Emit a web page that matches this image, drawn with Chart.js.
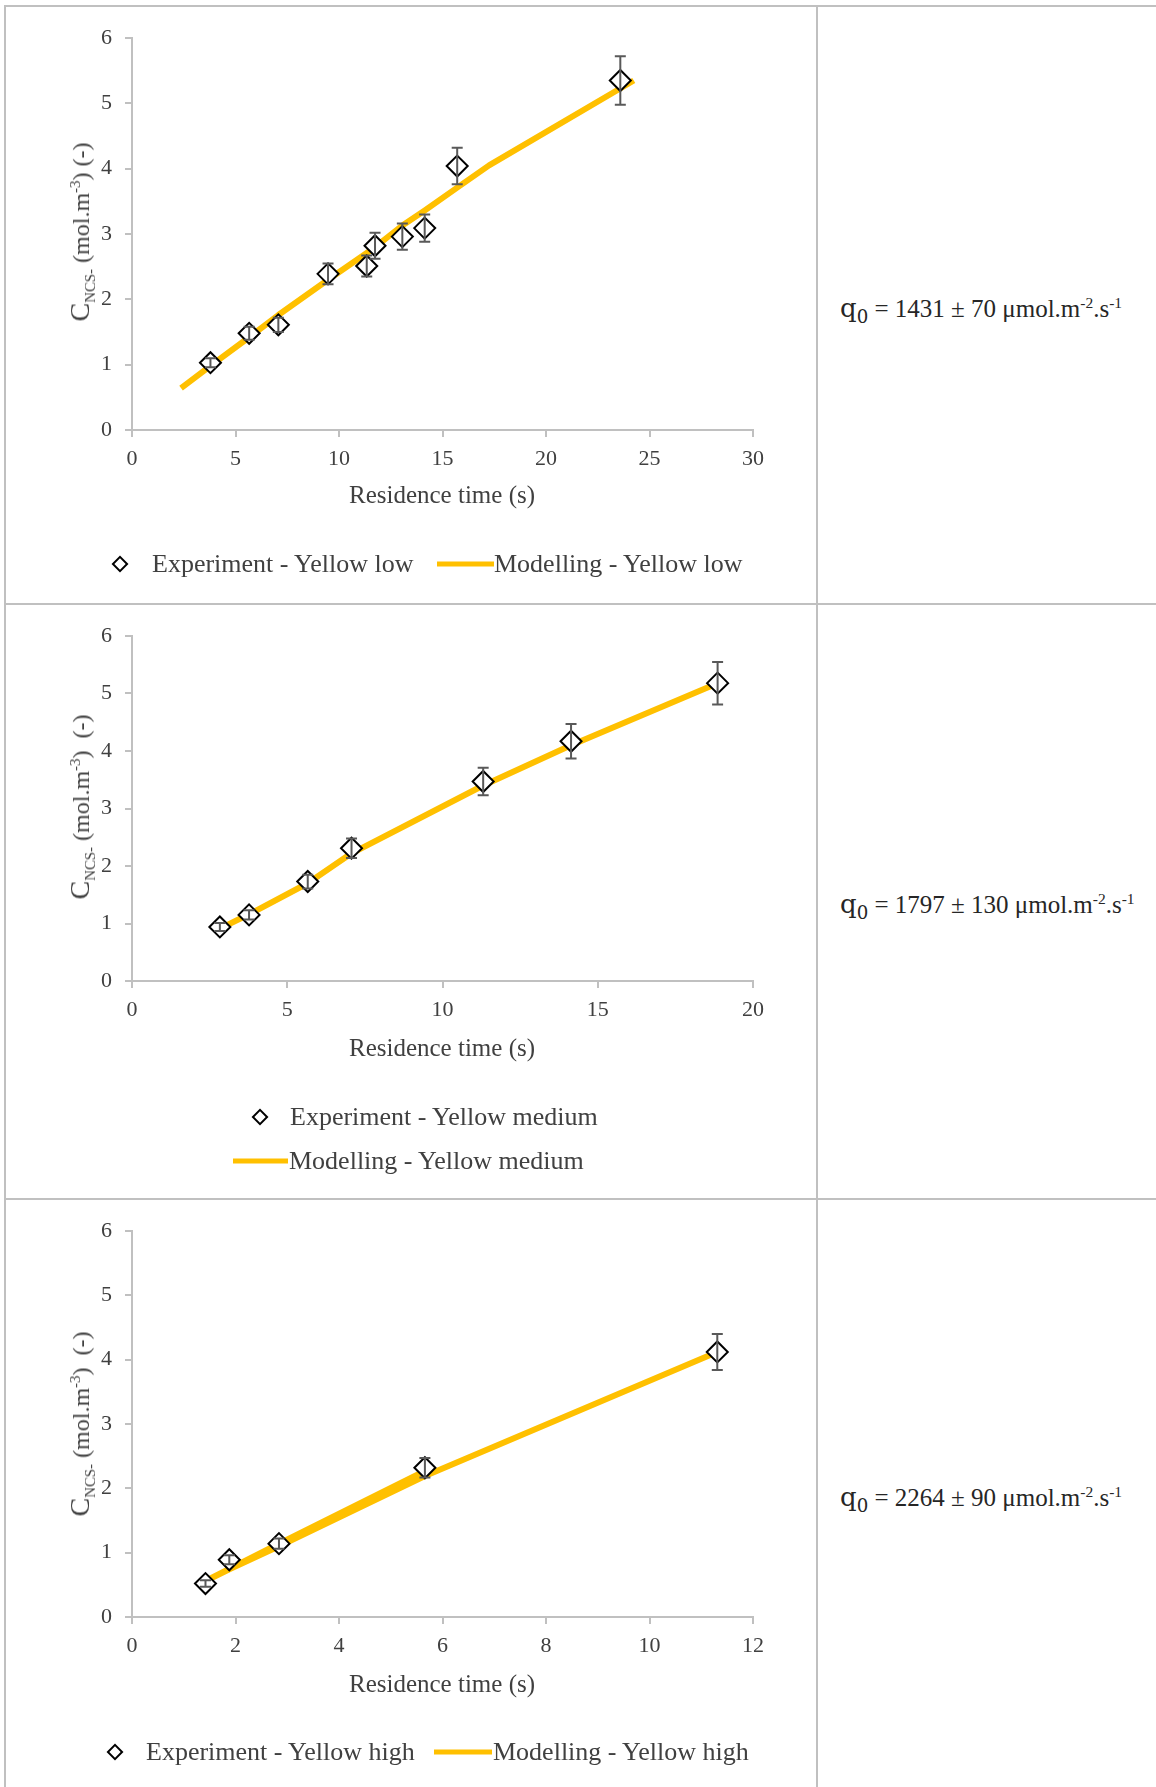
<!DOCTYPE html>
<html>
<head>
<meta charset="utf-8">
<script src="https://cdn.jsdelivr.net/npm/chart.js@4.4.1/dist/chart.umd.min.js"></script>
<style>
  html, body { margin: 0; padding: 0; background: #fff; }
  #page { position: relative; width: 1156px; height: 1787px; overflow: hidden;
          font-family: 'Liberation Serif', serif; color: #404040; }
  .rule { position: absolute; background: #c0c0c0; }
  canvas { position: absolute; left: 6px; }
  .lbl { position: absolute; white-space: nowrap; line-height: 1; }
  .xt { font-size: 25px; transform: translate(-50%, -50%); }
  .yt { font-size: 24px; transform: translate(-50%, -50%) rotate(-90deg); }
  .yt .big { font-size: 28px; }
  .yt sub, .yt sup, .q0 sup { font-size: 0.62em; line-height: 0; }
  .leg { font-size: 26px; transform: translateY(-50%); }
  .dia { position: absolute; width: 8px; height: 8px; border: 2px solid #000;
         transform: translate(-50%, -50%) rotate(45deg); background: #fff; }
  .lline { position: absolute; height: 5px; background: #ffc000; transform: translateY(-50%); }
  .q0 { font-size: 25px; color: #262626; transform: translateY(-50%); }
  .q0 .q { font-family: 'DejaVu Serif', serif; font-size: 26px; }
  .q0 .q sub { font-size: 0.7em; line-height: 0; }
</style>
</head>
<body>
<div id="page">
  <div class="rule" style="left:4px;top:5px;width:1152px;height:2px"></div>
  <div class="rule" style="left:4px;top:5px;width:2px;height:1782px"></div>
  <div class="rule" style="left:816px;top:5px;width:2px;height:1782px"></div>
  <div class="rule" style="left:4px;top:603px;width:1152px;height:2px"></div>
  <div class="rule" style="left:4px;top:1198px;width:1152px;height:2px"></div>

  <canvas id="low" width="810" height="596" style="top:7px"></canvas>
  <canvas id="medium" width="810" height="593" style="top:605px"></canvas>
  <canvas id="high" width="810" height="587" style="top:1200px"></canvas>

  <!-- axis titles -->
  <div class="lbl yt" style="left:80px;top:232px"><span class="big">C</span><sub>NCS-</sub> (mol.m<sup>-3</sup>) (-)</div>
  <div class="lbl yt" style="left:80px;top:807px"><span class="big">C</span><sub>NCS-</sub> (mol.m<sup>-3</sup>)&nbsp; (-)</div>
  <div class="lbl yt" style="left:80px;top:1424px"><span class="big">C</span><sub>NCS-</sub> (mol.m<sup>-3</sup>)&nbsp; (-)</div>
  <div class="lbl xt" style="left:442px;top:494px">Residence time (s)</div>
  <div class="lbl xt" style="left:442px;top:1047px">Residence time (s)</div>
  <div class="lbl xt" style="left:442px;top:1683px">Residence time (s)</div>

  <!-- legends -->
  <div class="dia" style="left:120px;top:564px"></div>
  <div class="lbl leg" style="left:152px;top:564px">Experiment - Yellow low</div>
  <div class="lline" style="left:437px;top:564px;width:57px"></div>
  <div class="lbl leg" style="left:494px;top:564px">Modelling - Yellow low</div>

  <div class="dia" style="left:260px;top:1117px"></div>
  <div class="lbl leg" style="left:290px;top:1117px">Experiment - Yellow medium</div>
  <div class="lline" style="left:233px;top:1161px;width:55px"></div>
  <div class="lbl leg" style="left:289px;top:1161px">Modelling - Yellow medium</div>

  <div class="dia" style="left:115px;top:1752px"></div>
  <div class="lbl leg" style="left:146px;top:1752px">Experiment - Yellow high</div>
  <div class="lline" style="left:434px;top:1752px;width:58px"></div>
  <div class="lbl leg" style="left:493px;top:1752px">Modelling - Yellow high</div>

  <!-- fitted fluxes -->
  <div class="lbl q0" style="left:840px;top:308px"><span class="q">q<sub>0</sub></span> = 1431 ± 70 μmol.m<sup>-2</sup>.s<sup>-1</sup></div>
  <div class="lbl q0" style="left:840px;top:904px"><span class="q">q<sub>0</sub></span> = 1797 ± 130 μmol.m<sup>-2</sup>.s<sup>-1</sup></div>
  <div class="lbl q0" style="left:840px;top:1497px"><span class="q">q<sub>0</sub></span> = 2264 ± 90 μmol.m<sup>-2</sup>.s<sup>-1</sup></div>
</div>

<script>
'use strict';

// Yellow low
var lowTime = [3.79, 5.66, 7.07, 9.47, 11.34, 11.74, 13.06, 14.14, 15.71, 23.59];
var lowConc = [1.03, 1.48, 1.61, 2.39, 2.51, 2.82, 2.96, 3.09, 4.04, 5.35];
var lowErr = [0.07, 0.10, 0.11, 0.16, 0.16, 0.20, 0.20, 0.21, 0.28, 0.37];
var lowModelTime = [2.37, 3.79, 5.66, 7.07, 9.47, 11.34, 11.74, 13.06, 14.14, 15.71, 17.25, 24.24];
var lowModelConc = [0.64, 0.98, 1.42, 1.76, 2.30, 2.71, 2.80, 3.13, 3.36, 3.71, 4.05, 5.35];

// Yellow medium
var medTime = [2.83, 3.77, 5.66, 7.07, 11.31, 14.14, 18.86];
var medConc = [0.94, 1.15, 1.73, 2.31, 3.47, 4.17, 5.18];
var medErr = [0.07, 0.08, 0.12, 0.17, 0.24, 0.30, 0.37];
var medModelTime = [2.83, 3.77, 5.66, 7.07, 11.31, 14.14, 18.86];
var medModelConc = [0.91, 1.16, 1.70, 2.22, 3.40, 4.10, 5.18];

// Yellow high (model series runs out and back, as in the sheet)
var highTime = [1.42, 1.88, 2.84, 5.66, 11.31];
var highConc = [0.52, 0.89, 1.14, 2.32, 4.12];
var highErr = [0.05, 0.07, 0.08, 0.15, 0.28];
var highModelTime = [5.66, 2.84, 1.42, 1.88, 2.84, 5.66, 11.31];
var highModelConc = [2.27, 1.14, 0.56, 0.74, 1.10, 2.19, 4.12];

var yTicks = [0, 1, 2, 3, 4, 5, 6];

var tickFont = { family: 'Liberation Serif', size: 22 };
var axisGrey = '#c0c0c0';

function points(xs, ys) {
  return xs.map(function(x, i) {
    return { x: x, y: ys[i] };
  });
}

var errorBars = {
  id: 'errorBars',
  afterDatasetsDraw: function(chart) {
    var ctx = chart.ctx;
    var sx = chart.scales.x;
    var sy = chart.scales.y;
    chart.data.datasets.forEach(function(ds) {
      if (!ds.errors) return;
      ctx.save();
      ctx.strokeStyle = '#595959';
      ctx.lineWidth = 2;
      ds.data.forEach(function(p, i) {
        var px = sx.getPixelForValue(p.x);
        var top = sy.getPixelForValue(p.y + ds.errors[i]);
        var bot = sy.getPixelForValue(p.y - ds.errors[i]);
        ctx.beginPath();
        ctx.moveTo(px, top);
        ctx.lineTo(px, bot);
        ctx.moveTo(px - 5.5, top);
        ctx.lineTo(px + 5.5, top);
        ctx.moveTo(px - 5.5, bot);
        ctx.lineTo(px + 5.5, bot);
        ctx.stroke();
      });
      ctx.restore();
    });
  }
};

function draw(id, xs, ys, errs, mxs, mys, xMax, xStep, xHeight) {
  var ctx = document.getElementById(id).getContext('2d');
  return new Chart(ctx, {
    type: 'scatter',
    data: {
      datasets: [
        {
          label: 'Experiment',
          data: points(xs, ys),
          errors: errs,
          pointStyle: 'rectRot',
          pointRadius: 10.5,
          borderColor: '#000',
          backgroundColor: '#fff',
          borderWidth: 2
        },
        {
          label: 'Modelling',
          data: points(mxs, mys),
          showLine: true,
          pointRadius: 0,
          borderColor: '#ffc000',
          borderWidth: 6,
          borderJoinStyle: 'round',
          tension: 0
        }
      ]
    },
    options: {
      responsive: false,
      animation: false,
      events: [],
      layout: { padding: { top: 31, right: 63, bottom: 0, left: 0 } },
      plugins: { legend: { display: false }, tooltip: { enabled: false } },
      scales: {
        x: {
          type: 'linear',
          min: 0,
          max: xMax,
          ticks: { stepSize: xStep, font: tickFont, color: '#404040', padding: 9 },
          grid: { drawOnChartArea: false, color: axisGrey, lineWidth: 2, tickLength: 7 },
          border: { color: axisGrey, width: 2 },
          afterFit: function(s) { s.height = xHeight; }
        },
        y: {
          min: 0,
          max: 6,
          afterBuildTicks: function(s) {
            s.ticks = yTicks.map(function(v) { return { value: v }; });
          },
          ticks: { font: tickFont, color: '#404040', padding: 13 },
          grid: { drawOnChartArea: false, color: axisGrey, lineWidth: 2, tickLength: 7 },
          border: { color: axisGrey, width: 2 },
          afterFit: function(s) { s.width = 126; }
        }
      }
    },
    plugins: [errorBars]
  });
}

draw('low', lowTime, lowConc, lowErr, lowModelTime, lowModelConc, 30, 5, 173);
draw('medium', medTime, medConc, medErr, medModelTime, medModelConc, 20, 5, 217);
draw('high', highTime, highConc, highErr, highModelTime, highModelConc, 12, 2, 170);
</script>
</body>
</html>
